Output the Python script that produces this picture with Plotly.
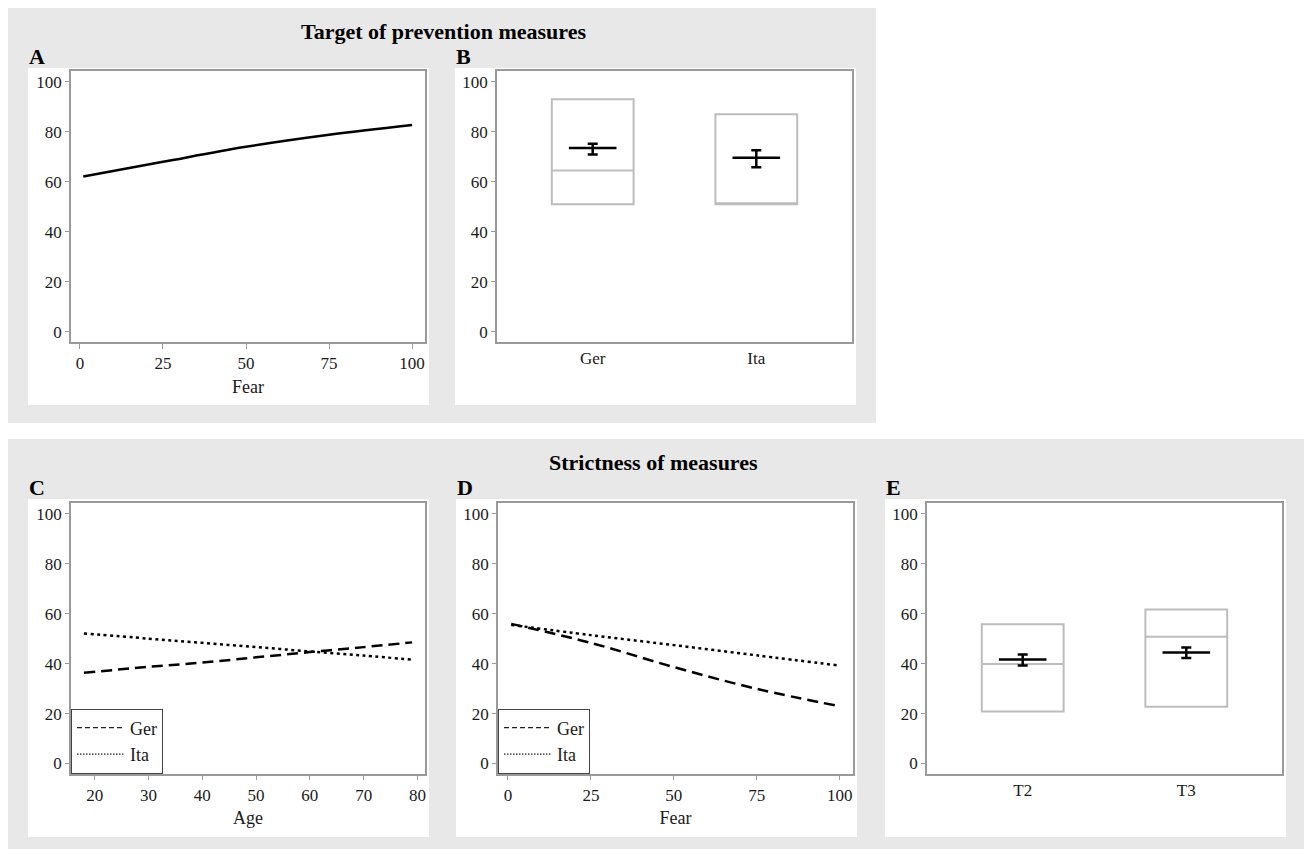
import plotly.graph_objects as go

W, H = 1305, 849
FONT = "Liberation Serif"

# ---------------- data ----------------
# Panel A: Target of prevention measures vs Fear
a_fear = [1, 25, 50, 75, 100]
a_target = [62.1, 68.0, 74.0, 78.8, 82.7]

# Panel B: by country (box = range, line = median; mean with CI)
b_cats = ["Ger", "Ita"]
b_q1 = [51.0, 51.0]
b_median = [64.5, 51.0]
b_q3 = [93.0, 87.0]
b_mean = [73.5, 69.6]
b_ci_low = [70.9, 65.8]
b_ci_high = [75.2, 72.6]

# Panel C: Strictness vs Age by country
c_age = [18, 30, 40, 50, 60, 70, 79]
c_ger = [36.3, 38.7, 40.4, 42.5, 44.6, 46.6, 48.5]
c_ita = [52.1, 50.0, 48.3, 46.6, 44.9, 43.2, 41.6]

# Panel D: Strictness vs Fear by country
d_fear = [1, 25, 50, 75, 100]
d_ger = [55.9, 48.3, 38.6, 29.9, 22.9]
d_ita = [55.5, 51.4, 47.4, 43.3, 39.2]

# Panel E: by time point
e_cats = ["T2", "T3"]
e_q1 = [20.8, 22.7]
e_median = [39.8, 50.8]
e_q3 = [55.8, 61.7]
e_mean = [41.6, 44.4]
e_ci_low = [39.2, 42.2]
e_ci_high = [43.6, 46.4]

# ---------------- layout helpers ----------------
def px_x(p):
    return p / W

def px_y(p):
    return 1 - p / H

fig = go.Figure()

line_col = "#9a9a9a"
TXT = "#1a1a1a"
tick_font = dict(family=FONT, size=17, color=TXT)

def add_axes(n, xdom, ydom, xrange, yrange, xtype="linear", xtickvals=None, xticks="outside", xtitle=None):
    xa = "xaxis" if n == 1 else f"xaxis{n}"
    ya = "yaxis" if n == 1 else f"yaxis{n}"
    anchor_y = "y" if n == 1 else f"y{n}"
    anchor_x = "x" if n == 1 else f"x{n}"
    xdict = dict(domain=xdom, anchor=anchor_y, range=xrange, showgrid=False, zeroline=False,
                 showline=True, mirror=True, linecolor=line_col, linewidth=1.5,
                 ticks=xticks, ticklen=5, tickcolor=line_col, tickwidth=1.2,
                 tickfont=tick_font, fixedrange=True)
    if xtype == "category":
        xdict["type"] = "category"
    if xtickvals is not None:
        xdict["tickvals"] = xtickvals
    if xtitle:
        xdict["title"] = dict(text=xtitle, font=dict(family=FONT, size=18, color=TXT), standoff=8)
    ydict = dict(domain=ydom, anchor=anchor_x, range=yrange, showgrid=False, zeroline=False,
                 showline=True, mirror=True, linecolor=line_col, linewidth=1.5,
                 ticks="outside", ticklen=4, tickcolor=line_col, tickwidth=1.2,
                 tickvals=[0, 20, 40, 60, 80, 100], tickfont=tick_font, fixedrange=True)
    fig.update_layout(**{xa: xdict, ya: ydict})

YR = [-4, 104.3]
top_y = [px_y(342), px_y(71)]
bot_y = [px_y(773.5), px_y(503)]

add_axes(1, [px_x(71), px_x(425)], top_y, [-2.7, 103.9], YR, xtickvals=[0, 25, 50, 75, 100], xtitle="Fear")
add_axes(2, [px_x(497), px_x(852)], top_y, [-0.585, 1.585], YR, xtype="category", xticks="")
add_axes(3, [px_x(71), px_x(425)], bot_y, [15.6, 81.4], YR, xtickvals=[20, 30, 40, 50, 60, 70, 80], xtitle="Age")
add_axes(4, [px_x(498), px_x(853)], bot_y, [-3.0, 104.0], YR, xtickvals=[0, 25, 50, 75, 100], xtitle="Fear")
add_axes(5, [px_x(927), px_x(1282)], bot_y, [-0.585, 1.585], YR, xtype="category", xticks="")

# ---------------- traces ----------------
fig.add_trace(go.Scatter(x=a_fear, y=a_target, mode="lines", line=dict(color="black", width=2.5, shape="spline"),
                         showlegend=False, xaxis="x", yaxis="y", hoverinfo="skip"))

def box_panel(cats, q1, med, q3, mean, lo, hi, xa, ya):
    fig.add_trace(go.Box(x=cats, q1=q1, median=med, q3=q3, lowerfence=q1, upperfence=q3,
                         width=0.5, whiskerwidth=0, fillcolor="white",
                         line=dict(color="#bdbdbd", width=2), boxpoints=False,
                         showlegend=False, xaxis=xa, yaxis=ya, hoverinfo="skip"))
    fig.add_trace(go.Scatter(x=cats, y=mean, mode="markers",
                             marker=dict(symbol="line-ew", size=34, color="black",
                                         line=dict(color="black", width=2.5)),
                             error_y=dict(type="data", symmetric=False,
                                          array=[h - m for h, m in zip(hi, mean)],
                                          arrayminus=[m - l for m, l in zip(mean, lo)],
                                          color="black", thickness=2.5, width=5),
                             showlegend=False, xaxis=xa, yaxis=ya, hoverinfo="skip"))

box_panel(b_cats, b_q1, b_median, b_q3, b_mean, b_ci_low, b_ci_high, "x2", "y2")
box_panel(e_cats, e_q1, e_median, e_q3, e_mean, e_ci_low, e_ci_high, "x5", "y5")

GER_DASH = "11px,6px"
ITA_DASH = "3px,3.5px"

for xs, ger, ita, xa, ya, lg in [(c_age, c_ger, c_ita, "x3", "y3", "legend"),
                                 (d_fear, d_ger, d_ita, "x4", "y4", "legend2")]:
    fig.add_trace(go.Scatter(x=xs, y=ger, mode="lines", line=dict(color="black", width=2.5, dash=GER_DASH, shape="spline"),
                             showlegend=False, xaxis=xa, yaxis=ya, hoverinfo="skip"))
    fig.add_trace(go.Scatter(x=xs, y=ita, mode="lines", line=dict(color="black", width=2.5, dash=ITA_DASH, shape="spline"),
                             showlegend=False, xaxis=xa, yaxis=ya, hoverinfo="skip"))
    # legend entries (thin line samples)
    fig.add_trace(go.Scatter(x=[None], y=[None], mode="lines", name="Ger",
                             line=dict(color="#222222", width=1.2, dash="5px,3px"),
                             legend=lg, xaxis=xa, yaxis=ya))
    fig.add_trace(go.Scatter(x=[None], y=[None], mode="lines", name="Ita",
                             line=dict(color="#222222", width=1.2, dash="1.5px,1.5px"),
                             legend=lg, xaxis=xa, yaxis=ya))

leg_common = dict(bgcolor="white", bordercolor="#444444", borderwidth=1,
                  font=dict(family=FONT, size=18, color=TXT),
                  xanchor="left", yanchor="bottom", tracegroupgap=0,
                  itemwidth=48, itemclick=False, itemdoubleclick=False)
fig.update_layout(
    legend=dict(x=px_x(71), y=px_y(773.5), **leg_common),
    legend2=dict(x=px_x(498), y=px_y(773.5), **leg_common),
)

# ---------------- background panels ----------------
shapes = []
def rect(x0, y0, x1, y1, color):
    shapes.append(dict(type="rect", xref="paper", yref="paper",
                       x0=px_x(x0), x1=px_x(x1), y0=px_y(y1), y1=px_y(y0),
                       fillcolor=color, line=dict(width=0), layer="below"))

rect(8, 8, 876, 423, "#e8e8e8")
rect(8, 439, 1304, 849, "#e8e8e8")
rect(28, 68, 429, 405, "white")
rect(455, 68, 856, 405, "white")
rect(28, 499, 429, 837, "white")
rect(456, 499, 857, 837, "white")
rect(885, 499, 1286, 837, "white")

annotations = []
def label(text, x, y, size=22, xanchor="left"):
    annotations.append(dict(text=f"<b>{text}</b>", x=px_x(x), y=px_y(y), xref="paper", yref="paper",
                            showarrow=False, xanchor=xanchor, yanchor="middle",
                            font=dict(family=FONT, size=size, color="black")))

label("Target of prevention measures", 443, 31, size=22, xanchor="center")
label("Strictness of measures", 653, 462, size=22, xanchor="center")
label("A", 27, 56)
label("B", 454, 56)
label("C", 27, 487)
label("D", 455, 487)
label("E", 884, 487)

fig.update_layout(
    width=W, height=H,
    margin=dict(l=0, r=0, t=0, b=0),
    paper_bgcolor="white", plot_bgcolor="white",
    shapes=shapes, annotations=annotations,
    font=dict(family=FONT),
)

fig.write_html("out.html", config={"displayModeBar": False},
               post_script="document.body.style.margin='0';document.body.style.overflow='hidden';")
